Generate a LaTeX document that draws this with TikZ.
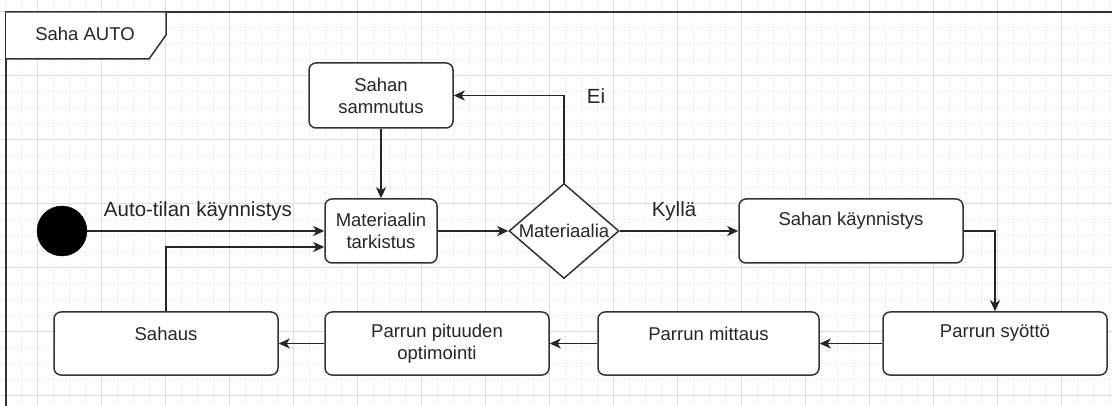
\documentclass[tikz,border=0pt]{standalone}
\usepackage{fontspec}
\setmainfont{Liberation Sans}
\usetikzlibrary{shapes.geometric,arrows.meta,calc}
\begin{document}
\begin{tikzpicture}[x=1pt,y=-1pt,
  box/.style={draw=black!80, line width=1.5pt, rounded corners=7pt, fill=white, inner sep=0pt},
  txt/.style={font=\fontsize{18.5}{22}\selectfont, align=center, text=black!85},
  lbl/.style={font=\fontsize{20.5}{24}\selectfont, text=black!85},
  conn/.style={draw=black!85, line width=1.6pt, -{Stealth[length=11pt,width=10pt,inset=3pt]}},
  minorgrid/.style={draw=black!13, line width=0.7pt, dash pattern=on 1pt off 2pt},
  majorgrid/.style={draw=black!13, line width=0.9pt},
]
\useasboundingbox (0,0) rectangle (1112,406);
\fill[white] (0,0) rectangle (1112,406);
% grid
\foreach \x in {5,21,...,1112} \draw[minorgrid] (\x,0) -- (\x,406);
\foreach \y in {11,27,...,406} \draw[minorgrid] (0,\y) -- (1112,\y);
\foreach \x in {37,101,...,1112} \draw[majorgrid] (\x,0) -- (\x,406);
\foreach \y in {11,75,...,406} \draw[majorgrid] (0,\y) -- (1112,\y);
% frame
\draw[black!80, line width=2pt] (6,406) -- (6,12) -- (1112,12);
\filldraw[fill=white, draw=black!80, line width=1.5pt] (6,12) -- (166,12) -- (166,35) -- (149,59) -- (6,59);
\node[txt] (title) at (85,34) {Saha AUTO};
% nodes
\node[circle, fill=black, draw=black, minimum size=50pt, inner sep=0pt] (start) at (62,231) {};
\node[box, txt, minimum width=144pt, minimum height=65pt] (ss) at (381,95.5) {Sahan\\sammutus};
\node[box, txt, minimum width=112pt, minimum height=64pt] (mt) at (381,231) {Materiaalin\\tarkistus};
\node[diamond, draw=black!80, line width=1.5pt, fill=white, inner sep=0pt, minimum width=110pt, minimum height=95pt] (dia) at (564,231) {};
\node[txt] (diat) at (dia.center) {Materiaalia};
\node[box, minimum width=224pt, minimum height=64pt, label={[txt,yshift=10pt]center:Sahan käynnistys}] (sk) at (851,231) {};
\node[box, minimum width=224pt, minimum height=63pt, label={[txt,yshift=10pt]center:Parrun syöttö}] (ps) at (995,343.5) {};
\node[box, minimum width=221pt, minimum height=63pt, label={[txt,yshift=10pt]center:Parrun mittaus}] (pm) at (708.5,343.5) {};
\node[box, txt, minimum width=224pt, minimum height=63pt] (ppo) at (437,343.5) {Parrun pituuden\\optimointi};
\node[box, minimum width=224pt, minimum height=63pt, label={[txt,yshift=10pt]center:Sahaus}] (sah) at (166,343.5) {};
% labels
\node[lbl, anchor=base] (lauto) at (198,217) {Auto-tilan käynnistys};
\node[lbl, anchor=base] (lky) at (674,217) {Kyllä};
\node[lbl, anchor=base] (lei) at (596,104) {Ei};
% connectors
\draw[conn] (start) -- (start -| mt.west);
\draw[conn] (sah.north) |- ($(mt.west)+(0,16)$);
\draw[conn] (ss) -- (mt);
\draw[conn] (mt) -- (dia);
\draw[conn] (dia.north) |- (ss.east);
\draw[conn] (dia) -- (sk);
\draw[conn] (sk.east) -| (ps.north);
\draw[conn] (ps) -- (pm);
\draw[conn] (pm) -- (ppo);
\draw[conn] (ppo) -- (sah);
\end{tikzpicture}
\end{document}
